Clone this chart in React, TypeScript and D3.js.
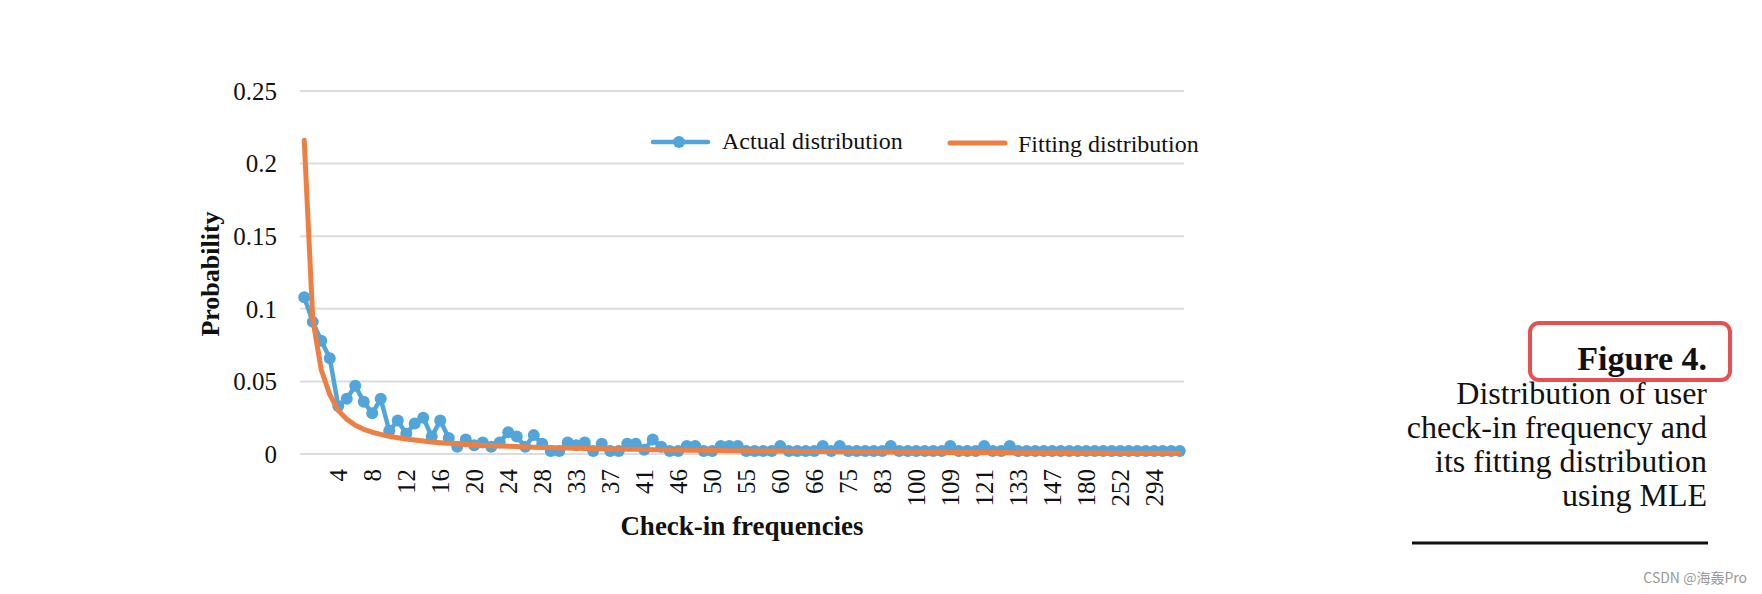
import * as d3 from "d3";

// check-in frequency categories (distinct observed values)
const CATEGORIES = [
  "0","1","2","3","4","5","6","7","8","9","10","11","12","13","14","15","16","17","18","19",
  "20","21","22","23","24","25","26","27","28","29","30","31","33","34","35","36","37","38","39","40",
  "41","42","43","45","46","47","48","49","50","51","52","54","55","56","57","58","60","61","63","64",
  "66","68","70","72","75","77","79","81","83","86","90","95","100","102","104","106","109","112","115","118",
  "121","124","127","130","133","136","140","143","147","152","160","170","180","190","205","230","252","260","270","283",
  "294","310","340","400",
];

const ACTUAL = [
  0.108,0.091,0.078,0.066,0.033,0.038,0.047,0.036,0.028,0.038,
  0.016,0.023,0.014,0.021,0.025,0.012,0.023,0.011,0.005,0.010,
  0.006,0.008,0.005,0.008,0.015,0.012,0.005,0.013,0.007,0.002,
  0.002,0.008,0.006,0.008,0.002,0.007,0.002,0.002,0.007,0.007,
  0.003,0.010,0.005,0.002,0.002,0.0055,0.0055,0.002,0.002,0.0055,
  0.0055,0.0055,0.002,0.002,0.002,0.002,0.0055,0.002,0.002,0.002,
  0.002,0.0055,0.002,0.0055,0.002,0.002,0.002,0.002,0.002,0.0055,
  0.002,0.002,0.002,0.002,0.002,0.002,0.0055,0.002,0.002,0.002,
  0.0055,0.002,0.002,0.0055,0.002,0.002,0.002,0.002,0.002,0.002,
  0.002,0.002,0.002,0.002,0.002,0.002,0.002,0.002,0.002,0.002,
  0.002,0.002,0.002,0.002,
];

const FITTED = [
  0.216,0.093,0.058,0.041,0.030,0.024,0.0198,0.017,0.015,0.0135,
  0.0122,0.0112,0.0103,0.0096,0.0089,0.0083,0.0078,0.0074,0.007,0.0066,
  0.0063,0.006,0.0057,0.0055,0.0053,0.0051,0.0049,0.0047,0.0045,0.0044,
  0.0042,0.0041,0.004,0.0038,0.0037,0.0036,0.0035,0.0034,0.0033,0.0032,
  0.0031,0.003,0.0029,0.0028,0.0027,0.0026,0.0026,0.0025,0.0024,0.0024,
  0.0023,0.0022,0.0022,0.0021,0.0021,0.002,0.002,0.0019,0.0019,0.0018,
  0.0018,0.0017,0.0017,0.0016,0.0016,0.0015,0.0015,0.0015,0.0014,0.0014,
  0.0013,0.0013,0.0013,0.0012,0.0012,0.0012,0.0011,0.0011,0.0011,0.001,
  0.001,0.001,0.001,0.0009,0.0009,0.0009,0.0009,0.0008,0.0008,0.0008,
  0.0008,0.0007,0.0007,0.0007,0.0007,0.0006,0.0006,0.0006,0.0006,0.0006,
  0.0005,0.0005,0.0005,0.0005,
];

const Y_TICKS = [0, 0.05, 0.1, 0.15, 0.2, 0.25];
const CAPTION = ["Distribution of user", "check-in frequency and", "its fitting distribution", "using MLE"];

const BLUE = "#52A5DB";
const ORANGE = "#EE7F43";
const SERIF = "'Liberation Serif','Times New Roman',serif";

export default function App() {
  const W = 1762, H = 594;
  const x = d3.scaleBand<number>().domain(CATEGORIES.map((_, i) => i)).range([300, 1184]).padding(0);
  const cx = (i: number) => x(i)! + x.bandwidth() / 2;
  const y = d3.scaleLinear().domain([0, 0.25]).range([454, 91]);

  const line = d3.line<number>().x((_, i) => cx(i)).y(d => y(d));
  const fmt = (t: number) => (t === 0 ? "0" : String(+t.toFixed(2)));

  return (
    <svg width={W} height={H} style={{ position: "absolute", left: 0, top: 0, background: "#fff" }} fontFamily={SERIF}>
      {Y_TICKS.map(t => (
        <g key={t}>
          <line x1={300} x2={1184} y1={y(t)} y2={y(t)} stroke="#DCDCDC" strokeWidth={2} />
          <text x={277} y={y(t)} dy="0.35em" textAnchor="end" fontSize={25} fill="#111">{fmt(t)}</text>
        </g>
      ))}

      {CATEGORIES.map((c, i) => (i > 0 && i % 4 === 0 ? (
        <text key={c} transform={`translate(${cx(i)},469) rotate(-90)`} dy="0.35em" textAnchor="end" fontSize={25} fill="#111">{c}</text>
      ) : null))}

      <path d={line(ACTUAL)!} fill="none" stroke={BLUE} strokeWidth={4.5} strokeLinejoin="round" />
      {ACTUAL.map((v, i) => <circle key={i} cx={cx(i)} cy={y(v)} r={6} fill={BLUE} />)}
      <path d={line(FITTED)!} fill="none" stroke={ORANGE} strokeWidth={5} strokeLinejoin="round" strokeLinecap="round" />

      {/* legend */}
      <line x1={653} x2={708} y1={142} y2={142} stroke={BLUE} strokeWidth={4.5} strokeLinecap="round" />
      <circle cx={679} cy={142} r={6} fill={BLUE} />
      <text x={722} y={149} fontSize={24} fill="#111">Actual distribution</text>
      <line x1={950} x2={1005} y1={143} y2={143} stroke={ORANGE} strokeWidth={5} strokeLinecap="round" />
      <text x={1018} y={152} fontSize={24} fill="#111">Fitting distribution</text>

      {/* axis titles */}
      <text transform="translate(210,274) rotate(-90)" dy="0.35em" textAnchor="middle" fontSize={26} fontWeight="bold" fill="#111">Probability</text>
      <text x={742} y={535} textAnchor="middle" fontSize={27} fontWeight="bold" fill="#111">Check-in frequencies</text>

      {/* caption */}
      <rect x={1530} y={323} width={200} height={57} rx={9} fill="none" stroke="#E94E51" strokeWidth={4} />
      <text x={1707} y={370} textAnchor="end" fontSize={34} fontWeight="bold" fill="#111">Figure 4.</text>
      {CAPTION.map((s, i) => (
        <text key={s} x={1707} y={404 + i * 34} textAnchor="end" fontSize={32} fill="#111">{s}</text>
      ))}
      <line x1={1412} x2={1708} y1={543} y2={543} stroke="#111" strokeWidth={3} />
      <text x={1747} y={583} textAnchor="end" fontSize={14} fill="#999" fontFamily="'Noto Sans CJK SC','Noto Sans',sans-serif">CSDN @海轰Pro</text>
    </svg>
  );
}
